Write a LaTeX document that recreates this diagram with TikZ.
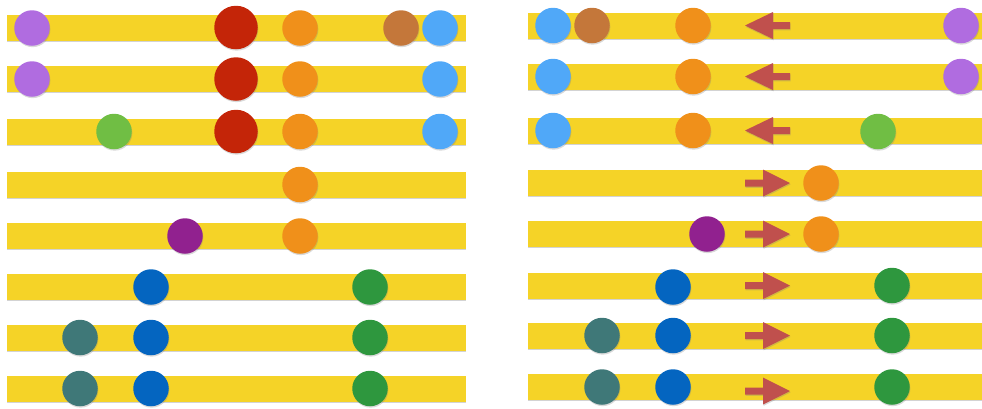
\documentclass[tikz,border=0pt]{standalone}
\usepackage{tikz}
\usetikzlibrary{shadows}
\definecolor{barY}{RGB}{245,211,39}
\definecolor{lilac}{RGB}{176,108,224}
\definecolor{ruby}{RGB}{196,37,8}
\definecolor{amber}{RGB}{240,144,26}
\definecolor{rust}{RGB}{196,119,58}
\definecolor{sky}{RGB}{80,168,248}
\definecolor{lime}{RGB}{112,190,68}
\definecolor{plum}{RGB}{145,33,143}
\definecolor{navy}{RGB}{4,101,192}
\definecolor{grass}{RGB}{46,151,62}
\definecolor{teal}{RGB}{63,120,120}
\definecolor{moveRed}{RGB}{192,80,77}

\begin{document}
\begin{tikzpicture}[x=1pt, y=-1pt,
    bar/.style={fill=barY, inner sep=0pt, minimum height=26pt,
                drop shadow={opacity=0.35, shadow xshift=0pt, shadow yshift=-1pt}},
    ball/.style={circle, inner sep=0pt, minimum size=35.5pt,
                 drop shadow={opacity=0.3, shadow xshift=0.6pt, shadow yshift=-1.4pt}},
    bigball/.style={ball, minimum size=43.5pt},
    move/.style={fill=moveRed,
                 drop shadow={opacity=0.3, shadow xshift=0.6pt, shadow yshift=-1.4pt}},
  ]
  \useasboundingbox (0,0) rectangle (982,408);

  % Bars, left and right
  \foreach \i/\yl/\yr in {1/28/25.5, 2/79/76.5, 3/131.5/130.5, 4/184.5/183,
                          5/236/234, 6/287/285.5, 7/337.5/335.5, 8/388.5/387} {
    \node[bar, minimum width=459pt] (lb\i) at (236.5,\yl) {};
    \node[bar, minimum width=454pt] (rb\i) at (755,\yr) {};
  }

  % Left balls
  \foreach \n/\x/\y/\col in {
    l1a/32/28/lilac, l1c/300/28/amber, l1d/401/28/rust, l1e/440/28/sky,
    l2a/32/79/lilac, l2c/300/79/amber, l2e/440/79/sky,
    l3a/114/131.5/lime, l3c/300/131.5/amber, l3e/440/131.5/sky,
    l4c/300/184.5/amber,
    l5a/185/236/plum, l5c/300/236/amber,
    l6b/151/287/navy, l6c/370/287/grass,
    l7a/80/337.5/teal, l7b/151/337.5/navy, l7c/370/337.5/grass,
    l8a/80/388.5/teal, l8b/151/388.5/navy, l8c/370/388.5/grass%
  } {
    \node[ball, fill=\col] (\n) at (\x,\y) {};
  }
  \foreach \i/\y in {1/27.5, 2/79, 3/131.5} {
    \node[bigball, fill=ruby] (l\i b) at (236,\y) {};
  }

  % Right balls
  \foreach \n/\x/\y/\col in {
    r1a/553/25.5/sky, r1b/592/25.5/rust, r1c/693/25.5/amber, r1d/961/25.5/lilac,
    r2a/553/76.5/sky, r2c/693/76.5/amber, r2d/961/76.5/lilac,
    r3a/553/130.5/sky, r3c/693/130.5/amber, r3d/878/131.5/lime,
    r4c/821/183/amber,
    r5a/707/234/plum, r5c/821/234/amber,
    r6b/673/287/navy, r6c/892/285.5/grass,
    r7a/602/335.5/teal, r7b/673/335.5/navy, r7c/892/335.5/grass,
    r8a/602/387/teal, r8b/673/387/navy, r8c/892/387/grass%
  } {
    \node[ball, fill=\col] (\n) at (\x,\y) {};
  }

  % Arrows pointing left
  \foreach \y in {25.5, 76.5, 130.5} {
    \path[move] (745,\y) -- (773,\y-13.5) -- (773,\y-3.5) -- (790,\y-3.5)
      -- (790,\y+3.5) -- (773,\y+3.5) -- (773,\y+13.5) -- cycle;
  }
  % Arrows pointing right
  \foreach \y in {183, 234, 285.5, 335.5, 391} {
    \path[move] (790,\y) -- (763,\y-13.5) -- (763,\y-3.5) -- (745,\y-3.5)
      -- (745,\y+3.5) -- (763,\y+3.5) -- (763,\y+13.5) -- cycle;
  }
\end{tikzpicture}
\end{document}
